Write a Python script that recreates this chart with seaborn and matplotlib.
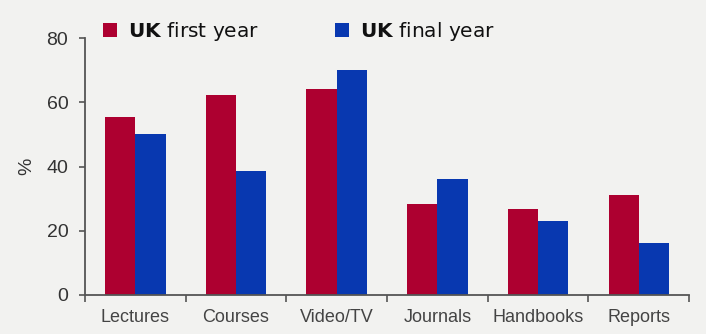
import matplotlib
matplotlib.use("Agg")
import matplotlib.pyplot as plt
import seaborn as sns
import pandas as pd
from matplotlib.lines import Line2D

categories = ["Lectures", "Courses", "Video/TV", "Journals", "Handbooks", "Reports"]
first_year = [55.4, 62.3, 64.2, 28.3, 26.8, 31.1]
final_year = [50.2, 38.6, 70.0, 36.1, 23.0, 16.2]
series = ["UK first year", "UK final year"]
colors = ["#ad0030", "#0838b0"]

df = pd.DataFrame({
    "category": categories * 2,
    "value": first_year + final_year,
    "series": [series[0]] * len(categories) + [series[1]] * len(categories),
})

sns.set_theme(style="white")
plt.rcParams["font.family"] = ["Liberation Sans", "DejaVu Sans"]

bg = "#f2f2f0"
fig = plt.figure(figsize=(7.06, 3.34), dpi=100, facecolor=bg)
ax = fig.add_axes([0.1204, 0.1168, 0.976 - 0.1204, 0.886 - 0.1168])
ax.set_facecolor(bg)

sns.barplot(data=df, x="category", y="value", hue="series", order=categories,
            hue_order=series, palette=colors, width=0.6, linewidth=0,
            saturation=1, legend=False, ax=ax)

ax.set_xlim(-0.5, len(categories) - 0.5)
ax.set_ylim(0, 80)
ax.set_yticks([0, 20, 40, 60, 80])
ax.set_xlabel("")
ax.set_ylabel("%", fontsize=14, color="#333333", labelpad=8)

for s in ["top", "right"]:
    ax.spines[s].set_visible(False)
for s in ["left", "bottom"]:
    ax.spines[s].set_color("#555555")
    ax.spines[s].set_linewidth(1.3)

ax.tick_params(axis="y", which="major", direction="out", length=4, width=1.2,
               color="#555555", labelsize=14, labelcolor="#333333", pad=8, left=True)
ax.tick_params(axis="x", which="major", length=0, labelsize=13,
               labelcolor="#444444", pad=10)
ax.set_xticks([i - 0.5 for i in range(len(categories) + 1)], minor=True)
ax.tick_params(axis="x", which="minor", direction="out", length=5, width=1.2,
               color="#555555", bottom=True)

handles = [Line2D([], [], marker="s", linestyle="none", markersize=10,
                  markerfacecolor=c, markeredgewidth=0) for c in colors]
labels = [r"$\bf{UK}$ first year", r"$\bf{UK}$ final year"]
leg = fig.legend(handles, labels, ncol=2, frameon=False, loc="center left",
                 bbox_to_anchor=(0.119, 0.905), prop={"family": "DejaVu Sans", "size": 14.5},
                 handlelength=0.8, handletextpad=0.5, columnspacing=3.7)
for t in leg.get_texts():
    t.set_color("#111111")

fig.savefig("out.png", dpi=100, facecolor=bg)
